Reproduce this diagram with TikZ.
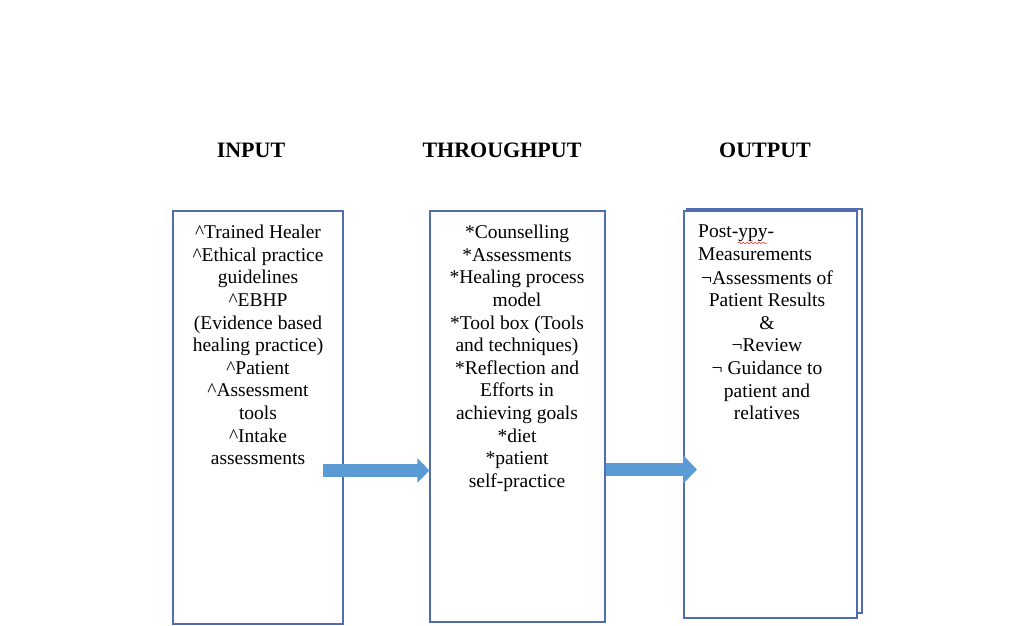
\documentclass[tikz,border=0pt]{standalone}
\usepackage{fontspec}
\setmainfont{Liberation Serif}
\usetikzlibrary{arrows.meta,decorations.pathmorphing}
\definecolor{boxblue}{HTML}{4F6DAF}
\definecolor{arrblue}{HTML}{5B9BD5}
\begin{document}
\begin{tikzpicture}[x=1pt,y=-1pt,
	stage/.style={draw=boxblue, line width=1.2pt, inner sep=0pt},
	heading/.style={font=\fontsize{22}{26}\selectfont\bfseries, inner sep=0pt},
	items/.style={font=\fontsize{19.5}{22.6}\selectfont, align=center, inner sep=0pt, anchor=north},
	flow/.style={line width=13pt, draw=arrblue, -{Triangle[length=12pt,width=24pt]}}]
	\useasboundingbox (0,0) rectangle (1017,626);
	%headings
	\node[heading] (inhead) at (251,150) {INPUT};
	\node[heading] (thhead) at (502,150) {THROUGHPUT};
	\node[heading] (outhead) at (765,150) {OUTPUT};
	
	%boxes
	\node[stage, minimum width=170pt, minimum height=413pt] (inbox) at (258,417.5) {};
	\node[stage, minimum width=175pt, minimum height=411pt] (thbox) at (517.5,416.5) {};
	\node[stage, minimum width=175pt, minimum height=404pt] (outboxb) at (774.5,411) {};
	\node[stage, fill=white, minimum width=173pt, minimum height=407pt] (outbox) at (770.5,414.5) {};
	
	%texts
	\node[items] (intext) at (258,225) {\textasciicircum Trained Healer\\
		\textasciicircum Ethical practice\\ guidelines\\ \textasciicircum EBHP\\
		(Evidence based\\ healing practice)\\ \textasciicircum Patient\\
		\textasciicircum Assessment\\ tools\\ \textasciicircum Intake\\ assessments};
	\node[items] (thtext) at (517,225) {*Counselling\\ *Assessments\\
		*Healing process\\ model\\ *Tool box (Tools\\ and techniques)\\
		*Reflection and\\ Efforts in\\ achieving goals\\ *diet\\ *patient\\ self-practice};
	\node[items, align=left, anchor=north west] (outlead) at (698,225) {Post-ypy-\\ Measurements};
	\node[items] (outtext) at (767,270.2) {¬Assessments of\\ Patient Results\\ \&\\
		¬Review\\ ¬ Guidance to\\ patient and\\ relatives};
	\draw[red, decorate, decoration={snake, amplitude=0.9pt, segment length=4pt}] (738,243) -- (768,243);
	
	%arrows
	\coordinate (intail) at (323,470.5);
	\coordinate (outtip) at (697,469.5);
	\draw[flow] (intail) -- (thbox.west |- intail);
	\draw[flow, -{Triangle[length=14pt,width=28pt]}] (thbox.east |- outtip) -- (outtip);
\end{tikzpicture}
\end{document}
